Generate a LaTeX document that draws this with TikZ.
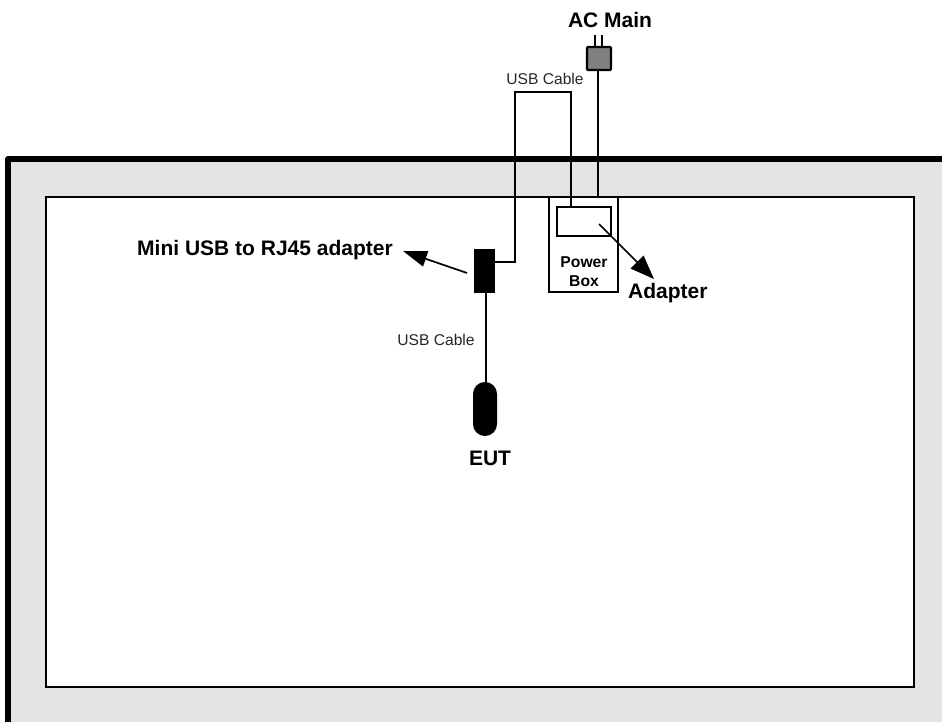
\documentclass[tikz,border=0pt]{standalone}
\usepackage{fontspec}
\setmainfont{Liberation Sans}
\usetikzlibrary{arrows.meta,calc}
\definecolor{wallgray}{RGB}{228,228,228}
\definecolor{pluggray}{RGB}{128,128,128}
\tikzset{
  px/.style={x=1pt,y=-1pt},
  wire/.style={draw=black,line width=1.7pt},
  bigtxt/.style={font=\fontsize{21}{24}\selectfont\bfseries,inner sep=0pt,text=black},
  smalltxt/.style={font=\fontsize{15.6}{18}\selectfont,inner sep=0pt,text=black!85},
  boxtxt/.style={font=\fontsize{15.7}{19}\selectfont\bfseries,inner sep=0pt},
  pointer/.style={draw=black,line width=1.7pt,-{Triangle[length=24pt,width=#1]}},
  sized/.style={minimum width=#1,inner sep=0pt,outer sep=0pt}
}
\begin{document}
\begin{tikzpicture}[px]
\useasboundingbox (0,0) rectangle (942,722);
% wall
\fill[wallgray] (8,159) rectangle (942,722);
\draw[line width=6pt,line join=round] (8,722) -- (8,159) -- (942,159);
\node[draw=black,fill=white,line width=1.6pt,sized=868pt,minimum height=490pt,anchor=north west] (room) at (46,197) {};
% power box
\node[draw=black,line width=1.7pt,sized=69pt,minimum height=95pt,anchor=north west] (powerbox) at (549,197) {};
\node[draw=black,line width=2pt,sized=54pt,minimum height=29pt,anchor=north west] (adapter) at (557,207) {};
\node[boxtxt,anchor=base] (powerword) at (584,267.5) {Power};
\node[boxtxt,anchor=base] (boxword) at (584,286.5) {Box};
% plug
\coordinate (pa) at (595,35); \coordinate (pb) at (602,35);
\node[draw=black,fill=pluggray,line width=2.2pt,rounded corners=1pt,sized=24pt,minimum height=23pt,anchor=north west] (plug) at (587,47) {};
\draw[line width=2.5pt] (pa) -- (pa |- plug.north);
\draw[line width=2.5pt] (pb) -- (pb |- plug.north);
\coordinate (plugdrop) at (598,197);
\draw[wire] (plugdrop |- plug.south) -- (plugdrop);
% mini adapter
\node[fill=black,sized=21pt,minimum height=44pt,anchor=north west] (mini) at (474,249) {};
% EUT
\node[fill=black,rounded corners=11.9pt,sized=24pt,minimum height=54pt,anchor=north west] (eut) at (473,382) {};
% cables
\draw[wire,line join=miter] (mini.east |- 0,262) -- (515,262) -- (515,92) -- (571,92) -- (571,207);
\draw[wire] (mini.south -| 486,0) -- (eut.north -| 486,0);
% labels
\node[bigtxt,anchor=base west] (minilabel) at (137,255) {Mini USB to RJ45 adapter};
\node[bigtxt,anchor=base west] (adapterlabel) at (628,298) {Adapter};
\node[bigtxt,anchor=base] (aclabel) at (610,28) {AC Main};
\node[bigtxt,anchor=base] (eutlabel) at (490,465) {EUT};
% pointers
\coordinate (m1) at (467,273); \coordinate (m2) at (403,251);
\draw[pointer=16pt] (m1) -- (m2);
\coordinate (a1) at (599,224); \coordinate (a2) at (654,279);
\draw[pointer=18pt] (a1) -- (a2);
\node[smalltxt,anchor=base] (usbtop) at (545,85) {USB Cable};
\node[smalltxt,anchor=base] (usbbottom) at (436,345) {USB Cable};
\end{tikzpicture}
\end{document}
